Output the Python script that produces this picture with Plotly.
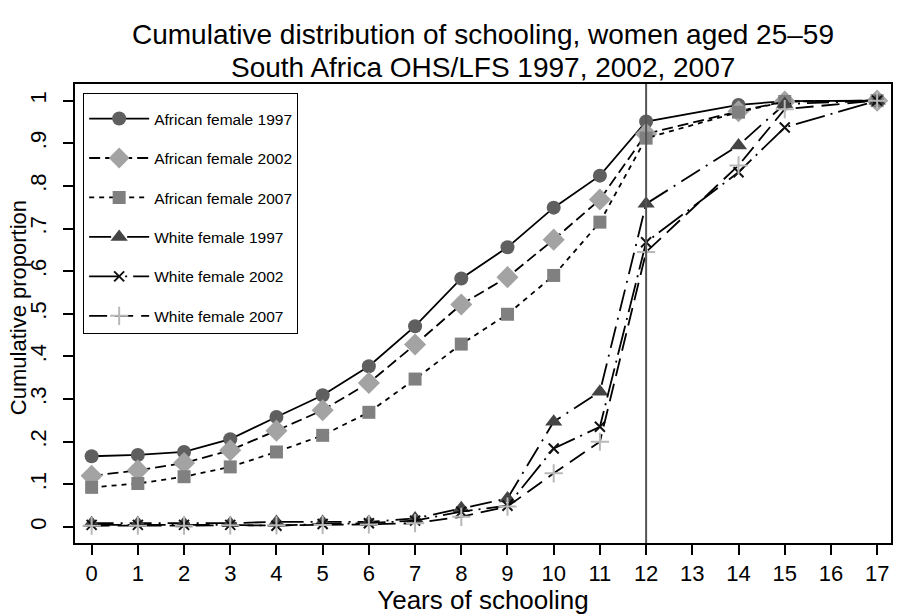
import plotly.graph_objects as go

years = [0, 1, 2, 3, 4, 5, 6, 7, 8, 9, 10, 11, 12, 14, 15, 17]

african_1997 = [0.166, 0.169, 0.176, 0.206, 0.258, 0.309, 0.377, 0.471, 0.583, 0.656, 0.749, 0.824, 0.951, 0.990, 0.999, 1.0]
african_2002 = [0.120, 0.133, 0.150, 0.180, 0.226, 0.274, 0.338, 0.428, 0.522, 0.586, 0.674, 0.768, 0.922, 0.975, 0.998, 1.0]
african_2007 = [0.093, 0.102, 0.118, 0.141, 0.176, 0.215, 0.269, 0.347, 0.429, 0.499, 0.590, 0.715, 0.912, 0.973, 0.998, 1.0]
white_1997 = [0.009, 0.009, 0.008, 0.009, 0.012, 0.012, 0.012, 0.020, 0.044, 0.067, 0.247, 0.317, 0.758, 0.895, 0.992, 1.0]
white_2002 = [0.005, 0.005, 0.005, 0.005, 0.003, 0.007, 0.009, 0.015, 0.036, 0.050, 0.184, 0.235, 0.668, 0.832, 0.937, 1.0]
white_2007 = [0.003, 0.003, 0.003, 0.004, 0.004, 0.005, 0.006, 0.009, 0.024, 0.048, 0.126, 0.200, 0.645, 0.848, 0.980, 1.0]

series_names = ["African female 1997", "African female 2002", "African female 2007",
                "White female 1997", "White female 2002", "White female 2007"]
series_values = [african_1997, african_2002, african_2007, white_1997, white_2002, white_2007]

y_tick_vals = [0, 0.1, 0.2, 0.3, 0.4, 0.5, 0.6, 0.7, 0.8, 0.9, 1.0]
y_tick_text = ["0", ".1", ".2", ".3", ".4", ".5", ".6", ".7", ".8", ".9", "1"]
x_tick_vals = list(range(0, 18))

title_lines = ["Cumulative distribution of schooling, women aged 25\u201359",
               "South Africa OHS/LFS 1997, 2002, 2007"]

styles = [
    dict(symbol="circle", size=14, color="#5f5f5f", dash="solid"),
    dict(symbol="diamond", size=17, color="#a3a3a3", dash="11px,5px"),
    dict(symbol="square", size=13, color="#808080", dash="5px,5px"),
    dict(symbol="triangle-up", size=15, color="#454545", dash="22px,7px,2px,7px"),
    dict(symbol="x-thin", size=10, color="#111111", dash="30px,6px,2px,6px"),
    dict(symbol="cross-thin", size=13, color="#b8b8b8", dash="18px,8px"),
]

FONT = "Liberation Sans, Arial, Helvetica, sans-serif"

fig = go.Figure()
for i, (name, vals, st) in enumerate(zip(series_names, series_values, styles)):
    thin = st["symbol"].endswith("-thin")
    fig.add_trace(go.Scatter(
        x=years, y=vals, name=name, mode="lines+markers",
        legendgroup=f"g{i}",
        line=dict(color="black", width=1.8, dash=st["dash"]),
        marker=dict(symbol=st["symbol"], size=st["size"], color=st["color"],
                    line=dict(color=st["color"], width=2 if thin else 0)),
    ))

fig.add_shape(type="line", xref="x", yref="paper", x0=12, x1=12, y0=0, y1=1,
              line=dict(color="#555555", width=2))

# plot area spans pixel rows 84..543 (459 px)
fig.add_annotation(text=title_lines[0], xref="paper", yref="paper", x=0.5, y=(543 - 34) / 459,
                   xanchor="center", yanchor="middle", showarrow=False,
                   font=dict(size=28, family=FONT, color="black"))
fig.add_annotation(text=title_lines[1], xref="paper", yref="paper", x=0.5, y=(543 - 67) / 459,
                   xanchor="center", yanchor="middle", showarrow=False,
                   font=dict(size=28, family=FONT, color="black"))
fig.add_annotation(text="Cumulative proportion", xref="paper", yref="paper",
                   x=(18 - 75) / 818, y=(543 - 308) / 459, textangle=-90,
                   xanchor="center", yanchor="middle", showarrow=False,
                   font=dict(size=22, family=FONT, color="black"))

fig.update_layout(
    width=897, height=615,
    margin=dict(l=75, r=4, t=84, b=72),
    paper_bgcolor="white", plot_bgcolor="white",
    font=dict(family=FONT, color="black"),
    showlegend=True,
    legend=dict(x=0.01, y=0.98, xanchor="left", yanchor="top",
                bgcolor="white", bordercolor="black", borderwidth=1,
                font=dict(size=15.5, family=FONT, color="black"),
                title=dict(text=" ", font=dict(size=6)),
                tracegroupgap=16.3, itemwidth=60,
                entrywidth=150, entrywidthmode="pixels"),
)
fig.update_xaxes(range=[-0.36, 17.3], tickvals=x_tick_vals, ticks="outside", ticklen=10,
                 tickwidth=1.5, tickcolor="black", showgrid=False, zeroline=False,
                 showline=True, linecolor="black", linewidth=2, mirror=True,
                 tickfont=dict(size=22), title=dict(text="Years of schooling", font=dict(size=26), standoff=2))
fig.update_yaxes(range=[-0.0375, 1.039], tickvals=y_tick_vals, ticktext=y_tick_text,
                 ticks="outside", ticklen=10, tickwidth=1.5, tickcolor="black", tickangle=-90,
                 ticklabelstandoff=8,
                 showgrid=False, zeroline=False, showline=True, linecolor="black", linewidth=2,
                 mirror=True, tickfont=dict(size=22))

fig.write_html("out.html")
